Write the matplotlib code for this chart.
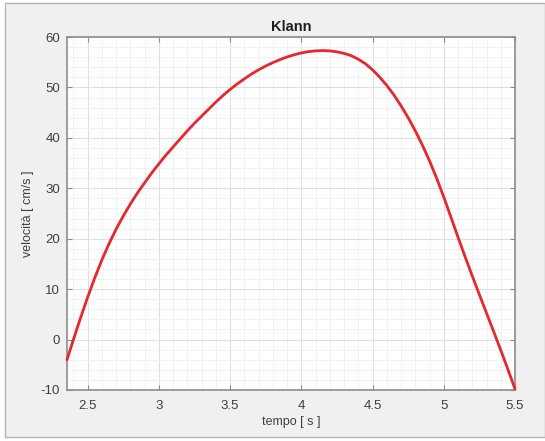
import matplotlib
matplotlib.use("Agg")
import matplotlib.pyplot as plt
from matplotlib.patches import Rectangle
from matplotlib.ticker import MultipleLocator

# ---- Data (every 0.05 s) ---------------------------------------------------

tempo = [2.355, 2.40, 2.45, 2.50, 2.55, 2.60, 2.65, 2.70, 2.75, 2.80,
         2.85, 2.90, 2.95, 3.00, 3.05, 3.10, 3.15, 3.20, 3.25, 3.30,
         3.35, 3.40, 3.45, 3.50, 3.55, 3.60, 3.65, 3.70, 3.75, 3.80,
         3.85, 3.90, 3.95, 4.00, 4.05, 4.10, 4.15, 4.20, 4.25, 4.30,
         4.35, 4.40, 4.45, 4.50, 4.55, 4.60, 4.65, 4.70, 4.75, 4.80,
         4.85, 4.90, 4.95, 5.00, 5.05, 5.10, 5.15, 5.20, 5.25, 5.30,
         5.35, 5.40, 5.45, 5.50]
velocita = [-4.0, 0.0, 4.3, 8.4, 12.25, 15.8, 19.0, 21.9, 24.5, 26.9,
            29.1, 31.1, 33.05, 34.85, 36.6, 38.2, 39.8, 41.4, 42.9, 44.3,
            45.7, 47.1, 48.4, 49.6, 50.7, 51.7, 52.65, 53.5, 54.25, 54.92,
            55.52, 56.04, 56.48, 56.84, 57.1, 57.25, 57.3, 57.25, 57.05, 56.75,
            56.3, 55.6, 54.7, 53.5, 52.05, 50.4, 48.5, 46.35, 44.0, 41.4,
            38.55, 35.45, 32.0, 28.25, 24.3, 20.3, 16.4, 12.6, 8.9, 5.25,
            1.6, -2.1, -5.9, -9.8]

x_ticks = [2.5, 3, 3.5, 4, 4.5, 5, 5.5]
x_tick_labels = ["2.5", "3", "3.5", "4", "4.5", "5", "5.5"]
y_ticks = [-10, 0, 10, 20, 30, 40, 50, 60]
y_tick_labels = ["-10", "0", "10", "20", "30", "40", "50", "60"]

TEXT = "#404040"
EDGE = "#8c8c8c"

plt.rcParams["font.family"] = ["Liberation Sans", "DejaVu Sans"]

fig = plt.figure(figsize=(5.45, 4.41), dpi=100)
fig.patch.set_facecolor("white")
# gray MATLAB-style figure panel
fig.patches.append(Rectangle((5 / 545, 4 / 441), 540 / 545, 434 / 441,
                             transform=fig.transFigure, facecolor="#f0f0f0",
                             edgecolor="#b4b4b4", linewidth=1.0, zorder=-10))

ax = fig.add_axes([67 / 545, 51 / 441, 448 / 545, 353 / 441])
ax.set_facecolor("white")

ax.plot(tempo, velocita, color="#e8262b", linewidth=2.0, solid_capstyle="round",
        solid_joinstyle="round", zorder=3, clip_on=False)

ax.set_xlim(2.355, 5.5)
ax.set_ylim(-10, 60)
ax.set_xticks(x_ticks)
ax.set_xticklabels(x_tick_labels)
ax.set_yticks(y_ticks)
ax.set_yticklabels(y_tick_labels)
ax.xaxis.set_minor_locator(MultipleLocator(0.1))
ax.yaxis.set_minor_locator(MultipleLocator(2))

ax.grid(True, which="major", color="#e0e0e0", linewidth=0.8)
ax.grid(True, which="minor", color="#f0f0f0", linewidth=0.6)
ax.set_axisbelow(True)

ax.tick_params(which="major", direction="in", length=3.5, width=0.8,
               color=EDGE, labelcolor=TEXT, labelsize=9.5,
               top=True, right=True)
ax.tick_params(axis="x", which="major", pad=7)
ax.tick_params(axis="y", which="major", pad=5)
ax.tick_params(which="minor", length=0)
for s in ax.spines.values():
    s.set_color(EDGE)
    s.set_linewidth(1.2)

ax.set_title("Klann", fontsize=10.5, fontweight="bold", color="#202020", pad=4)
ax.set_xlabel("tempo [ s ]", fontsize=9, color=TEXT, labelpad=3)
ax.set_ylabel("velocità [ cm/s ]", fontsize=9, color=TEXT, labelpad=5)

fig.savefig("out.png", dpi=100)
